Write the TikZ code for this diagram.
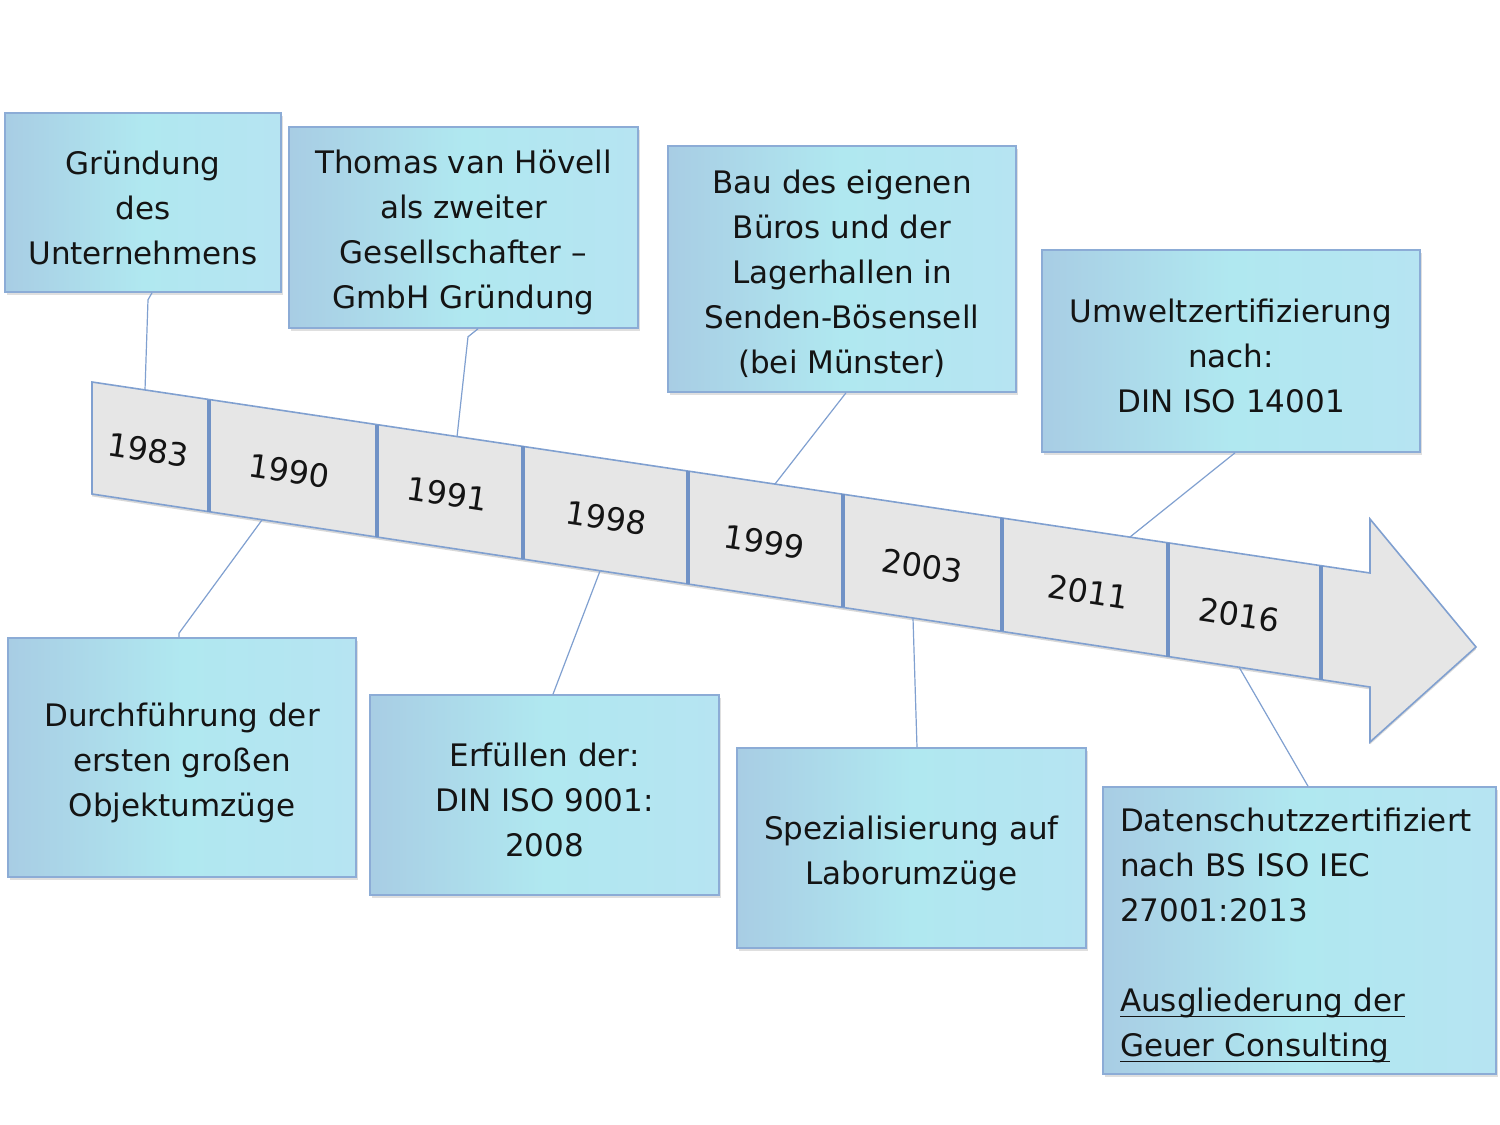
\documentclass[tikz,border=0pt]{standalone}
\usepackage{fontspec}
\setmainfont{DejaVu Sans}
\usetikzlibrary{shadows,calc}
\definecolor{boxL}{RGB}{168,205,228}
\definecolor{boxM}{RGB}{176,232,240}
\definecolor{boxR}{RGB}{182,228,242}
\definecolor{boxBorder}{RGB}{140,172,214}
\definecolor{arrowBorder}{RGB}{128,160,208}
\definecolor{divider}{RGB}{112,146,198}
\definecolor{arrowFill}{RGB}{230,230,230}
\definecolor{txt}{RGB}{20,20,20}
\pgfdeclarehorizontalshading{boxshade}{100bp}{color(0bp)=(boxL); color(25bp)=(boxL); color(50bp)=(boxM); color(75bp)=(boxR); color(100bp)=(boxR)}
\newcommand{\myuline}[1]{\leavevmode\setbox0\hbox{#1}\rlap{\rule[-2.6pt]{\wd0}{0.55pt}}\box0}
\begin{document}
\begin{tikzpicture}[x=0.5pt,y=-0.5pt,
  eventbox/.style={draw=boxBorder, line width=0.8pt, shading=boxshade,
    inner sep=0pt,
    drop shadow={opacity=0.25, shadow xshift=1pt, shadow yshift=-1.5pt}},
  boxtext/.style={align=center, inner sep=0pt, font=\fontsize{15.5}{22.5}\selectfont, text=txt},
  yearlabel/.style={font=\fontsize{16}{18}\selectfont, text=txt, rotate=-8.6, inner sep=0pt},
  connector/.style={draw=arrowBorder, line width=0.6pt},
  divline/.style={draw=divider, line width=1.6pt}]

\useasboundingbox[fill=white] (0,0) rectangle (1500,1125);

% arrow
\coordinate (A) at (92,382);
\coordinate (S1) at (1370,573);
\coordinate (H1) at (1370,519);
\coordinate (T) at (1476,647);
\coordinate (H2) at (1370,742);
\coordinate (S2) at (1370,687);
\coordinate (B) at (92,494);
\draw[fill=arrowFill, draw=arrowBorder, line width=0.8pt,
  drop shadow={opacity=0.3, shadow xshift=0pt, shadow yshift=-1.2pt}]
  (A) -- (S1) -- (H1) -- (T) -- (H2) -- (S2) -- (B) -- cycle;

% dividers
\foreach \xx/\ya/\yb in {209/399.5/511.7, 377/424.6/537.0, 523/446.4/559.1, 688/471.1/584.0,
  843/494.3/607.4, 1002/518.0/631.4, 1168/542.9/656.5, 1321/565.7/679.6}
  \draw[divline] (\xx,\ya) -- (\xx,\yb);

% year labels
\node[yearlabel] (y1983) at (148,450) {1983};
\node[yearlabel] (y1990) at (289,471) {1990};
\node[yearlabel] (y1991) at (447,494) {1991};
\node[yearlabel] (y1998) at (606,518) {1998};
\node[yearlabel] (y1999) at (764,542) {1999};
\node[yearlabel] (y2003) at (922,566) {2003};
\node[yearlabel] (y2011) at (1088,592) {2011};
\node[yearlabel] (y2016) at (1239,615) {2016};

% anchor points on the arrow
\coordinate (a1) at (145,390);
\coordinate (a2) at (457,437);
\coordinate (a3) at (775,484);
\coordinate (a4) at (1130,537);
\coordinate (a5) at (262,520);
\coordinate (a6) at (600,571);
\coordinate (a7) at (913,618);
\coordinate (a8) at (1239,667);

% boxes
\node[eventbox, minimum width=138pt, minimum height=89.5pt] (b1) at (143,202.5) {};
\node[eventbox, minimum width=174.5pt, minimum height=100.5pt] (b2) at (463.5,227.5) {};
\node[eventbox, minimum width=174pt, minimum height=123pt] (b3) at (842,269) {};
\node[eventbox, minimum width=189pt, minimum height=101pt] (b4) at (1231,351) {};
\node[eventbox, minimum width=174pt, minimum height=119.5pt] (b5) at (182,757.5) {};
\node[eventbox, minimum width=174.5pt, minimum height=100pt] (b6) at (544.5,795) {};
\node[eventbox, minimum width=174.5pt, minimum height=100pt] (b7) at (911.5,848) {};
\node[eventbox, minimum width=196.5pt, minimum height=143.5pt] (b8) at (1299.5,930.5) {};

% box texts
\node[boxtext] (t1) at ([yshift=-2.5pt]b1.center) {Gründung\\des\\Unternehmens};
\node[boxtext] (t2) at ([yshift=-2.5pt]b2.center) {Thomas van Hövell\\als zweiter\\Gesellschafter –\\GmbH Gründung};
\node[boxtext] (t3) at ([yshift=-2.5pt]b3.center) {Bau des eigenen\\Büros und der\\Lagerhallen in\\Senden-Bösensell\\(bei Münster)};
\node[boxtext] (t4) at ([yshift=-2.5pt]b4.center) {Umweltzertifizierung\\nach:\\DIN ISO 14001};
\node[boxtext] (t5) at ([yshift=-2.5pt]b5.center) {Durchführung der\\ersten großen\\Objektumzüge};
\node[boxtext] (t6) at ([yshift=-2.5pt]b6.center) {Erfüllen der:\\DIN ISO 9001:\\2008};
\node[boxtext] (t7) at ([yshift=-2.5pt]b7.center) {Spezialisierung auf\\Laborumzüge};
\node[boxtext, align=left, text width=179.5pt] (t8) at ([yshift=-2.5pt]b8.center)
  {Datenschutzzertifiziert\\nach BS ISO IEC\\27001:2013\\[22.5pt]\myuline{Ausgliederung der}\\\myuline{Geuer Consulting}};

% connectors
\draw[connector] (b1.south) ++(9,0) -- ++(-4,7) -- (a1);
\draw[connector] (b2.south) ++(14.5,0) -- ++(-10,8) -- (a2);
\draw[connector] (b3.south) ++(4,0) -- (a3);
\draw[connector] (b4.south) ++(4,0) -- (a4);
\draw[connector] (b5.north) ++(-3,0) -- ++(0,-4) -- (a5);
\draw[connector] (b6.north) ++(8.5,0) -- (a6);
\draw[connector] (b7.north) ++(5.5,0) -- (a7);
\draw[connector] (b8.north) ++(8.5,0) -- (a8);
\end{tikzpicture}
\end{document}
